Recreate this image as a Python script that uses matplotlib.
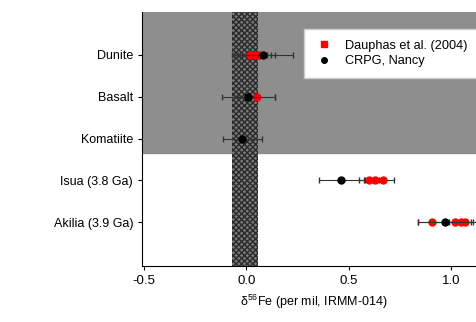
import numpy as np
import matplotlib.pyplot as plt
from matplotlib.lines import Line2D

plt.rcParams['font.family'] = ['Liberation Sans', 'DejaVu Sans']
plt.rcParams['axes.unicode_minus'] = False
plt.rcParams['mathtext.fontset'] = 'custom'
plt.rcParams['mathtext.rm'] = 'Liberation Sans'

# 시료 이름 (위에서 아래로)
samples = ['Dunite', 'Basalt', 'Komatiite', 'Isua (3.8 Ga)', 'Akilia (3.9 Ga)']
ypos = [5, 4, 3, 2, 1]

# Dauphas et al. (2004) 값
red_y = [5, 5, 5, 4, 2, 2, 2, 1, 1, 1, 1]
red_x = [0.02, 0.04, 0.06, 0.05, 0.60, 0.63, 0.67, 0.91, 1.02, 1.05, 1.07]
red_err = [0.08, 0.08, 0.08, 0.09, 0.05, 0.05, 0.05, 0.07, 0.06, 0.06, 0.06]

# CRPG, Nancy 값
blk_y = [5, 4, 3, 2, 1]
blk_x = [0.08, 0.01, -0.02, 0.465, 0.97]
blk_err = [0.15, 0.13, 0.095, 0.11, 0.13]

fig = plt.figure(figsize=(4.77, 3.22), dpi=100)
ax = fig.add_axes([0.298, 0.174, 0.72, 0.789])

# 회색 영역 (맨틀 시료)
ax.axhspan(2.65, 6.2, color='#8e8e8e', zorder=0)
# 빗금 영역
ax.axvspan(-0.072, 0.055, facecolor='#7a7a7a', edgecolor='#2a2a2a',
           hatch='xxxxxx', linewidth=0, zorder=1)

ax.errorbar(red_x, red_y, xerr=red_err, fmt='o', color='red', ecolor='#333333',
            markersize=5, capsize=2, elinewidth=0.8, zorder=3,
            label='Dauphas et al. (2004)')
ax.errorbar(blk_x, blk_y, xerr=blk_err, fmt='o', color='black', ecolor='#333333',
            markersize=5, capsize=2, elinewidth=0.8, zorder=4,
            label='CRPG, Nancy')

ax.set_xlim(-0.51, 1.17)
ax.set_ylim(-0.05, 6.03)
ax.set_xticks([-0.5, 0.0, 0.5, 1.0])
ax.set_yticks(ypos)
ax.set_yticklabels(samples, fontsize=9)
ax.tick_params(axis='x', labelsize=9.5, length=3)
ax.tick_params(axis='y', length=3)
ax.set_xlabel('δ$^{56}$Fe (per mil, IRMM-014)', fontsize=9, labelpad=4)
ax.spines['top'].set_visible(False)
ax.spines['right'].set_visible(False)

labels = ['Dauphas et al. (2004)', 'CRPG, Nancy']
h = [Line2D([], [], marker='s', color='red', linestyle='', markersize=4),
     Line2D([], [], marker='o', color='black', linestyle='', markersize=4)]
fig.legend(h, labels, loc='upper left', fontsize=9.2, frameon=True, fancybox=False,
           edgecolor='#cccccc', framealpha=1, borderpad=0.8, handletextpad=0.9,
           labelspacing=0.3, handlelength=1.5,
           bbox_to_anchor=(298 / 477, 1 - 23 / 322))

fig.savefig('out.png', dpi=100)
